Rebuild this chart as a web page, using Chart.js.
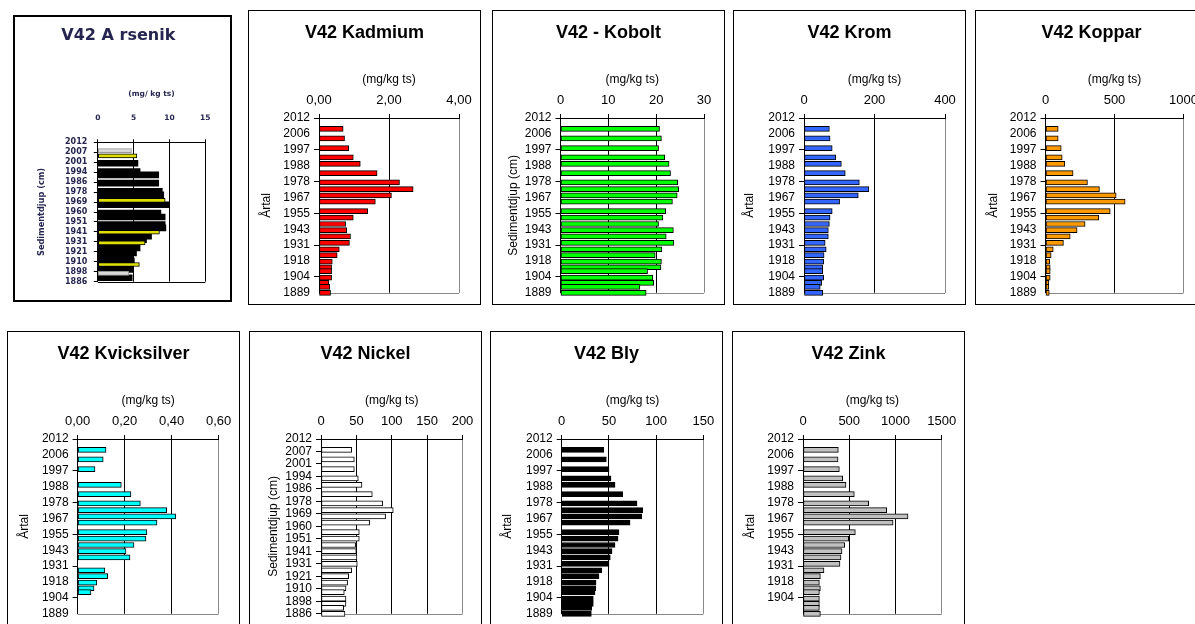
<!DOCTYPE html>
<html lang="sv">
<head>
<meta charset="utf-8">
<title>V42 metaller i sediment</title>
<script src="https://cdn.jsdelivr.net/npm/chart.js@4.4.1/dist/chart.umd.min.js"></script>
<style>
  html, body { margin: 0; padding: 0; background: #fff; }
  body { width: 1195px; height: 624px; overflow: hidden; position: relative; }
  .panel { position: absolute; border: 1px solid #000; background: #fff; }
  .panel canvas { display: block; }
  #ars { border-width: 2px; }
  #ars canvas { filter: blur(0.4px); }
</style>
</head>
<body>
<script>
// provnivåer (djupindex, 0 = ytan) - samma snitt i alla diagram utom arsenik
const djup = [0.68, 1.28, 1.90, 2.48, 2.89, 3.47, 4.05, 4.48, 4.87, 5.26, 5.86, 6.27, 6.67,
              7.06, 7.45, 7.86, 8.26, 8.63, 9.04, 9.39, 9.64, 10.05, 10.38, 10.63, 11.0];

const artal = ['2012', '2006', '1997', '1988', '1978', '1967', '1955', '1943', '1931', '1918', '1904', '1889'];
const artalZink = ['2012', '2006', '1997', '1988', '1978', '1967', '1955', '1943', '1931', '1918', '1904'];
const artalNickel = ['2012', '2007', '2001', '1994', '1986', '1978', '1969', '1960', '1951', '1941',
                     '1931', '1921', '1910', '1898', '1886'];

// halter (mg/kg ts)
const kadmium = [0.69, 0.73, 0.85, 0.98, 1.18, 1.66, 2.30, 2.69, 2.07, 1.61, 1.39, 0.98, 0.76,
                 0.79, 0.90, 0.87, 0.58, 0.52, 0.38, 0.36, 0.36, 0.36, 0.28, 0.31, 0.33];
const kobolt = [20.7, 21.1, 20.5, 21.8, 22.7, 23.0, 24.5, 24.7, 24.4, 23.4, 22.0, 21.4, 20.5,
                23.6, 22.1, 23.7, 21.2, 19.8, 21.1, 21.0, 18.2, 19.3, 19.5, 16.6, 17.9];
const krom = [72, 74, 80, 90, 106, 117, 157, 184, 154, 101, 80, 74, 72,
              69, 69, 60, 63, 57, 56, 53, 53, 56, 50, 46, 53];
const koppar = [92, 92, 114, 121, 140, 200, 304, 391, 512, 577, 469, 386, 287,
                229, 179, 130, 56, 41, 31, 34, 34, 34, 24, 24, 27];
const kvicksilver = [0.121, 0.109, 0.074, null, 0.186, 0.227, 0.267, 0.379, 0.418, 0.338, 0.295, 0.291, 0.240,
                     0.206, 0.223, null, 0.116, 0.128, 0.082, 0.070, 0.057, null, null, null, null];
const nickel = [43.3, 47.1, 47.1, 52.7, 57.9, 72.5, 87.1, 102.1, 91.3, 68.7, 54.1, 54.1, 48.9,
                49.9, 50.8, 51.3, 43.3, 39.1, 37.6, 35.3, 32.9, 35.3, 35.3, 32.0, 33.9];
const bly = [44.5, 47.3, 50.1, 52.2, 56.5, 64.6, 79.8, 85.8, 84.7, 72.4, 60.7, 59.7, 56.5,
             53.3, 51.5, 50.1, 42.4, 39.5, 36.4, 36.0, 35.3, 33.5, 33.5, 31.8, 31.4];
const zink = [382, 379, 393, 429, 465, 555, 710, 905, 1136, 974, 566, 494, 451,
              422, 411, 400, 227, 188, 177, 188, 177, 177, 177, 177, 188];

// arsenik (inklistrad bild i originalet, egen djupskala 0-14)
const arsDjupSvart = [2.1, 2.93, 3.27, 4.1, 4.93, 5.27, 6.27, 7.1, 7.5, 8.27, 8.6, 9.43, 9.77,
                      10.6, 11.1, 11.6, 11.93, 12.77, 13.6];
const arsenikSvart = [5.6, 5.9, 8.5, 8.5, 9.0, 9.2, 9.9, 8.8, 9.4, 9.4, 9.5, 7.5, 6.8,
                      5.9, 5.4, 5.0, 5.1, 5.0, 4.8];
const arsDjupGul = [1.37, 5.83, 9.03, 10.1, 12.27];
const arsenikGul = [5.45, 9.4, 8.6, 6.6, 5.8];
const arsDjupGra = [0.83, 13.17];
const arsenikGra = [4.7, 4.3];

// x-skalor
const skalaKadmium = [0, 2, 4];
const skalaKobolt = [0, 10, 20, 30];
const skalaKrom = [0, 200, 400];
const skalaKoppar = [0, 500, 1000];
const skalaKvicksilver = [0, 0.2, 0.4, 0.6];
const skalaNickel = [0, 50, 100, 150, 200];
const skalaBly = [0, 50, 100, 150];
const skalaZink = [0, 500, 1000, 1500];
const skalaArsenik = [0, 5, 10, 15];


Chart.defaults.font.family = "'Liberation Sans', Arial, sans-serif";
Chart.defaults.color = '#000';
Chart.defaults.animation = false;

// grå underkant på ritytan
const ramLinje = {
  id: 'ramLinje',
  beforeDatasetsDraw(chart, args, opts) {
    const a = chart.chartArea, ctx = chart.ctx;
    const y = Math.round(a.bottom) + 0.5;
    ctx.save();
    ctx.strokeStyle = opts.color || '#888';
    ctx.lineWidth = 1;
    ctx.beginPath();
    ctx.moveTo(a.left, y);
    ctx.lineTo(a.right, y);
    ctx.stroke();
    ctx.restore();
  }
};

function punkter(pos, vals) {
  return pos.map((d, i) => ({ x: vals[i], y: d }))
            .filter(p => p.x !== null && p.x !== undefined);
}

const std = {
  w: 231, h: 293, font: "'Liberation Sans', Arial, sans-serif", textFarg: '#000',
  titelTop: 11, titelStorlek: 18, titelSkift: 0,
  enhet: '(mg/kg ts)', enhetY: 68.5, enhetStorlek: 12,
  xTickStorlek: 13, xTickPad: 6, xTickLen: 4,
  yTickStorlek: 12, yTickPad: 4, yTickLen: 5, yTitelStorlek: 12, tickVarannan: true,
  plotTop: 107, plotBottom: 285, ymax: 11, dec: 0,
  gridFarg: '#000', kantFarg: '#888', bold: false
};

function panel(spec) {
  const p = Object.assign({}, std, spec);
  const div = document.createElement('div');
  div.className = 'panel';
  if (p.id) div.id = p.id;
  div.style.left = p.left + 'px';
  div.style.top = p.top + 'px';
  const cv = document.createElement('canvas');
  cv.width = p.w; cv.height = p.h;
  cv.style.width = p.w + 'px'; cv.style.height = p.h + 'px';
  div.appendChild(cv);
  document.body.appendChild(div);

  const vikt = p.bold ? 'bold' : 'normal';
  const titelBotten = p.titelTop + p.titelStorlek * 1.2;
  const nTicks = p.nTicks || p.artal.length;
  const xmax = p.skala[p.skala.length - 1];

  new Chart(cv, {
    type: 'bar',
    data: {
      datasets: p.serier.map((s, k) => ({
        data: punkter(s.djup, s.varden),
        backgroundColor: s.farg,
        borderColor: s.kant || '#000',
        borderWidth: s.kantBredd === undefined ? 1 : s.kantBredd,
        borderSkipped: false,
        barThickness: s.tjocklek,
        grouped: false,
        clip: false,
        order: k
      }))
    },
    options: {
      indexAxis: 'y',
      responsive: false,
      animation: false,
      layout: { padding: { left: 0, top: 0, right: p.titelSkift, bottom: p.h - p.plotBottom } },
      plugins: {
        legend: { display: false },
        tooltip: { enabled: false },
        title: {
          display: true, text: p.titel, color: p.titelFarg || p.textFarg,
          font: { family: p.font, size: p.titelStorlek, weight: 'bold' },
          padding: { top: p.titelTop, bottom: 0 }
        },
        ramLinje: { color: p.kantFarg }
      },
      scales: {
        x: {
          type: 'linear', position: 'top', min: 0, max: xmax,
          afterBuildTicks: s => { s.ticks = p.skala.map(v => ({ value: v })); },
          afterFit: s => { s.height = p.plotTop - titelBotten; },
          ticks: {
            autoSkip: false, maxRotation: 0, padding: p.xTickPad, color: p.textFarg,
            font: { family: p.font, size: p.xTickStorlek, weight: vikt },
            callback: v => p.dec ? v.toFixed(p.dec).replace('.', ',') : String(v)
          },
          grid: {
            color: c => (c.tick && c.tick.value === xmax) ? p.kantFarg : p.gridFarg,
            tickColor: '#000', tickLength: p.xTickLen
          },
          border: { color: '#000' },
          title: {
            display: true, text: p.enhet, color: p.textFarg,
            font: { family: p.font, size: p.enhetStorlek, weight: vikt },
            padding: { top: p.enhetY - titelBotten - p.enhetStorlek * 0.6, bottom: 0 }
          }
        },
        y: {
          type: 'linear', reverse: true, min: 0, max: p.ymax, offset: false,
          afterBuildTicks: s => {
            s.ticks = Array.from({ length: nTicks }, (_, i) => ({ value: i * p.ymax / (nTicks - 1) }));
          },
          afterFit: s => { s.width = p.plotLeft; },
          ticks: {
            autoSkip: false, padding: p.yTickPad, color: p.textFarg,
            font: { family: p.font, size: p.yTickStorlek, weight: vikt },
            callback: (v, i) => p.artal[i] || ''
          },
          grid: {
            drawOnChartArea: false, offset: false, color: '#000', tickLength: p.yTickLen,
            tickColor: c => (!p.tickVarannan || c.index % 2 === 0) ? '#000' : 'rgba(0,0,0,0)'
          },
          border: { color: '#000' },
          title: {
            display: true, text: p.ytitel, color: p.textFarg,
            font: { family: p.font, size: p.yTitelStorlek, weight: vikt },
            padding: { top: p.yTitelX - p.yTitelStorlek * 0.6, bottom: 0 }
          }
        },
        hoger: {
          type: 'linear', position: 'right', display: true,
          grid: { display: false }, ticks: { display: false }, border: { display: false },
          afterFit: s => { s.width = p.w - p.plotRight - p.titelSkift; }
        }
      }
    },
    plugins: [ramLinje]
  });
}

panel({
  id: 'ars', left: 13, top: 15, w: 215, h: 283, bold: true, tickVarannan: false,
  font: "'DejaVu Sans', Verdana, sans-serif", textFarg: '#252550',
  titel: 'V42 A rsenik', titelTop: 9.4, titelStorlek: 16, titelSkift: 8.4,
  enhet: '(mg/ kg ts)', enhetY: 77, enhetStorlek: 7.5,
  xTickStorlek: 7.5, xTickPad: 17, xTickLen: 3,
  yTickStorlek: 8, yTickPad: 6.5, yTickLen: 4, yTitelStorlek: 8.2, yTitelX: 27.3,
  plotTop: 125.3, plotBottom: 264.7, plotLeft: 82.8, plotRight: 190.3,
  ymax: 14, artal: artalNickel, ytitel: 'Sedimentdjup (cm)', skala: skalaArsenik,
  gridFarg: '#000', kantFarg: '#000',
  serier: [
    { djup: arsDjupGul, varden: arsenikGul, farg: '#dede00', tjocklek: 4 },
    { djup: arsDjupGra, varden: arsenikGra, farg: '#d8d8d8', kant: '#999', tjocklek: 4 },
    { djup: arsDjupSvart, varden: arsenikSvart, farg: '#000', kantBredd: 0, tjocklek: 6 }
  ]
});

panel({ left: 248, top: 10, titel: 'V42 Kadmium', ytitel: 'Årtal', yTitelX: 17.4,
  plotLeft: 70, plotRight: 210, artal: artal, skala: skalaKadmium, dec: 2,
  serier: [{ djup: djup, varden: kadmium, farg: '#ff0000', tjocklek: 5 }] });

panel({ left: 492, top: 10, titel: 'V42 - Kobolt', ytitel: 'Sedimentdjup (cm)', yTitelX: 20.7,
  plotLeft: 67.5, plotRight: 211, artal: artal, skala: skalaKobolt,
  serier: [{ djup: djup, varden: kobolt, farg: '#00ff00', tjocklek: 5 }] });

panel({ left: 733, top: 10, titel: 'V42 Krom', ytitel: 'Årtal', yTitelX: 15.7,
  plotLeft: 70, plotRight: 211, artal: artal, skala: skalaKrom,
  serier: [{ djup: djup, varden: krom, farg: '#3366ff', tjocklek: 5 }] });

panel({ left: 975, top: 10, titel: 'V42 Koppar', ytitel: 'Årtal', yTitelX: 17.6,
  plotLeft: 69.5, plotRight: 207.5, artal: artal, skala: skalaKoppar,
  serier: [{ djup: djup, varden: koppar, farg: '#ff9900', tjocklek: 5 }] });

panel({ left: 7, top: 331, titel: 'V42 Kvicksilver', ytitel: 'Årtal', yTitelX: 16.3,
  plotLeft: 69.6, plotRight: 210.6, artal: artal, skala: skalaKvicksilver, dec: 2,
  serier: [{ djup: djup, varden: kvicksilver, farg: '#00ffff', tjocklek: 5 }] });

panel({ left: 249, top: 331, titel: 'V42 Nickel', ytitel: 'Sedimentdjup (cm)', yTitelX: 23.3,
  plotLeft: 71, plotRight: 212.5, artal: artalNickel, skala: skalaNickel, tickVarannan: false,
  serier: [{ djup: djup, varden: nickel, farg: '#ffffff', tjocklek: 5 }] });

panel({ left: 490, top: 331, titel: 'V42 Bly', ytitel: 'Årtal', yTitelX: 16.7,
  plotLeft: 70.7, plotRight: 212.3, artal: artal, skala: skalaBly,
  serier: [{ djup: djup, varden: bly, farg: '#000000', tjocklek: 5 }] });

panel({ left: 732, top: 331, titel: 'V42 Zink', ytitel: 'Årtal', yTitelX: 17.3,
  plotLeft: 70, plotRight: 208.7, artal: artalZink, nTicks: 12, skala: skalaZink,
  serier: [{ djup: djup, varden: zink, farg: '#c0c0c0', tjocklek: 5 }] });
</script>
</body>
</html>
